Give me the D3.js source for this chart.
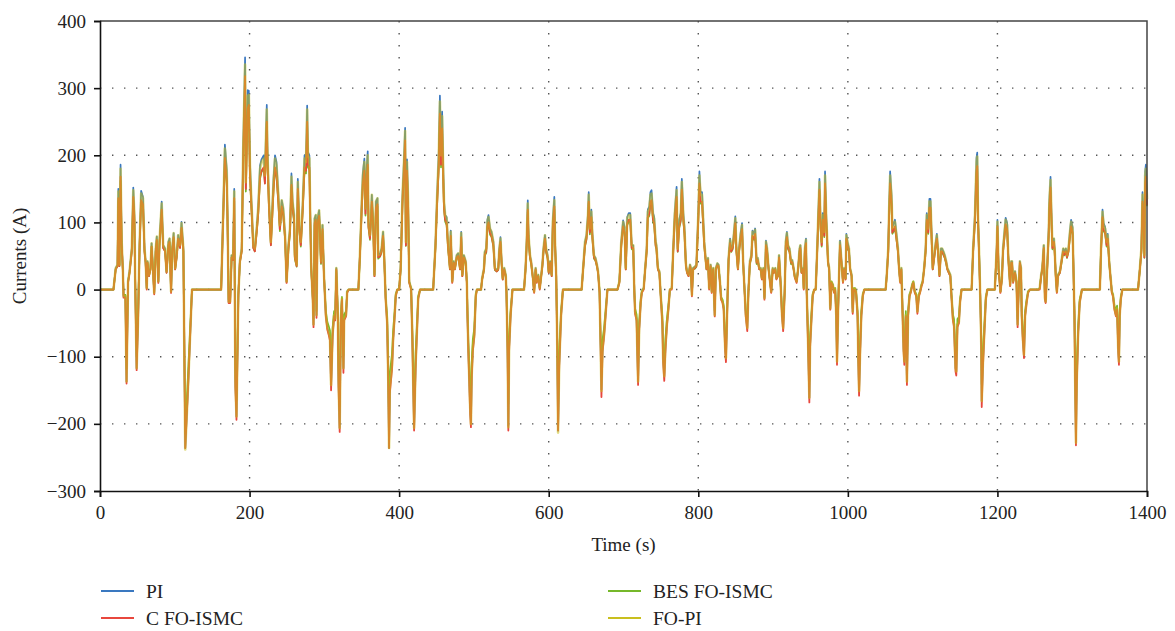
<!DOCTYPE html>
<html>
<head>
<meta charset="utf-8">
<script src="https://cdn.jsdelivr.net/npm/d3@7"></script>
<style>
  html, body { margin: 0; padding: 0; background: #fff; }
  svg { display: block; }
  text { font-family: "Liberation Serif", "DejaVu Serif", serif; fill: #222; }
</style>
</head>
<body>
<svg id="chart" width="1175" height="631"></svg>
<script>
// Sample times (s), shared by all four current traces
const time = [
  0,18,21,23.5,24.5,26,27.5,29,30.5,31.5, 34,35.5,37.5,39.5,42.5,44.5,46,47,49,51, 53,55,57.5,59.5,61,62.5,63.5,65.5,67.5,69, 71,72.5,74.5,76,78,79.5,82.5,84.5,87,89, 91.5,93,95,96.5,98.5,100.5,102.5,104.5,107,109, 111.5,114,118,123,162,167,169.5,170.5,172,174, 176,178,179.5,181,182.5,185,187,189.5,191.5,194, 195,197.5,199,200.5,202.5,205,207,209.5,211.5,214, 216,219,220.5,223,224,226,228.5,
  232,234,236,238.5,240.5,243,245,247.5,249.5,252, 254,256,257.5,259.5,260.5,263,264.5,266.5,268.5,271, 273.5,275.5,277,278,280,281,282.5,284.5,285.5,287, 288.5,289.5,291,293,294,295.5,297.5,299.5,302,304, 305.5,307.5,309,311,313,314.5,316,318,319,320.5, 322,323.5,325.5,326.5,329,330.5,332.5,345.5,347.5,350, 351.5,353.5,355,356.5,358,359,361,362.5,363.5,365.5, 367,369,371,372,374.5,376.5,378.5,380,382,384, 385.5,386.5,387.5,390.5,392,394,395.5,397.5,400,402, 404.5,406.5,408,409,410.5,412,413.5,416,417.5,420, 422,425.5,428,445.5,448.5,450.5,453,454.5,456,457.5, 458.5,460,461.5,
  463.5,465.5,468,469,471,473,474.5,477,479,481.5, 483,484.5,486.5,489,490.5,491.5,492.5,493.5,495,496, 497,498.5,500.5,502.5,504,509.5,511,513.5,514.5,516.5, 518,519.5,521.5,523.5,526,528,530.5,532.5,534,535.5, 537,538.5,540.5,542.5,543.5,545,546,547,549,551.5, 567,569,570.5,572,573,575,576.5,579,580.5,582.5, 584,586,588,589.5,591.5,593,595,596.5,598.5,600, 602,604,605.5,607.5,608.5,610,611.5,612.5,614,616.5, 619,644,646,648.5,650.5,652.5,653.5,655,657,658.5, 660.5,662.5,664.5,666,668,669.5,670.5,672,674,676, 678.5,692,
  694.5,697,699.5,701.5,703,705,707,709,711,713, 714.5,715.5,717.5,719.5,721,723,724.5,727,729,731, 732.5,734.5,736,737.5,739.5,741,743,744,746,748, 749.5,752,753,754.5,756,758,760,762,764.5,766.5, 768.5,771,772.5,774.5,776.5,778,780,781.5,783.5,785, 787,789,790,791.5,793,795.5,797.5,800,801.5,803, 805,806.5,808,809.5,811,813,814.5,816.5,818,820, 822,823.5,825.5,827,829,830.5,832.5,834,836,837, 838.5,840.5,842.5,844,846,847.5,849.5,851,853,854.5, 856.5,858.5,860,862,863.5,865.5,867,869,871,872.5, 874.5,876,878,879.5,881.5,883.5,885,887,888.5,890.5, 892,894,895.5,897.5,899.5,901,903,904.5,906.5,908, 910,912,913.5,915.5,917,918.5,920,922,924,925.5, 927.5,929,
  931.5,933.5,935.5,936.5,938,940,941,942.5,944,945, 947,948.5,949.5,951.5,953,955,957,959,960.5,962, 963.5,965,966.5,968.5,969.5,971,972.5,973.5,975,976.5, 978,980,981.5,983,984.5,985.5,987,988.5,989.5,991.5, 993.5,995,997,998,999.5,1001.5,1003,1005,1006.5,1008, 1009.5,1011,1013,1014,1015,1016.5,1018,1020,1022,1050.5, 1052,1054,1055,1056.5,1058.5,1059.5,1061.5,1063,1065,1067, 1068.5,1070,1071.5,1073,1074.5,1075.5,1077.5,1079,1080.5,1082.5, 1084,1086,1087.5,1089.5,1091.5,1093,1095,1096.5,1098.5,1100, 1102,1104,1105.5,1107.5,1109,1110.5,1112,1113.5,1115.5,1117, 1119,1120.5,1122.5,1124.5,1126,1128,1129.5,1131.5,1133,1135, 1137,1138.5,1140.5,1142,1144,1145,1146.5,1148.5,1150,1152,
  1165.5,1167.5,1170,1172,1173,1174,1175.5,1177,1178.5,1179, 1180.5,1182.5,1184.5,1186.5,1196.5,1199,1200,1201.5,1203,1204, 1206,1207.5,1209.5,1211,1213,1214.5,1215.5,1217,1218.5,1219.5, 1221,1222.5,1223.5,1225.5,1227,1228,1230,1231.5,1232.5,1234, 1235.5,1237,1239,1241,1243.5,1254.5,1256.5,1258.5,1260,1262, 1263.5,1264.5,1266.5,1268.5,1269.5,1271,1272.5,1273.5,1275.5,1276.5, 1278,1279.5,1281,1283.5,1285.5,1288,1289.5,1291.5,1293,1295, 1297,1298.5,1300.5,1301.5,1303,1304,1305,1306,1308,1310, 1313,1337,1338.5,1340.5,1342,1344,1346,1347.5,1349.5,1351, 1353,1354.5,1356.5,1358.5,1360,1361.5,1362.5,1363.5,1365,1367, 1388,1390.5,1392.5,1394,1395.5,1396.5,1397.5,1398.5,1400
];

// PI controller current (A)
const currentPI = [
  0,0,32,37,150,37,186,71,32,-10, -10,-137,12,27,61,152,111,17,-117,-38, 71,147,138,61,42,2,42,22,32,69, 27,-5,61,79,12,71,131,66,61,27, 71,76,-3,61,84,32,51,81,66,101, 61,-236,-137,0,0,216,178,111,-18,-18, 51,47,150,-137,-189,-8,42,61,214,346, 165,297,296,190,131,66,61,91,121,185, 194,200,172,275,205,131,71,
  165,200,190,141,96,133,121,81,12,66, 91,173,131,111,51,37,165,96,71,126, 200,194,274,205,200,121,32,-13,-52,106, 111,-38,106,118,91,42,96,22,-38,-57, -62,-72,-142,-67,-38,-43,32,-38,-137,-206, -48,-13,-117,-43,-38,-3,0,0,51,131, 174,195,121,180,206,101,81,116,141,96, 22,131,136,51,54,61,86,51,-13,-48, -137,-236,-147,-112,-72,-38,-8,0,0,32, 141,194,241,71,194,131,12,2,-62,-206, -112,-12,0,0,66,131,206,289,206,265, 204,131,111,
  108,66,32,88,12,42,32,51,54,32, 86,22,51,42,12,-43,-87,-122,-176,-198, -127,-87,-67,-8,0,0,17,32,56,61, 104,111,91,86,71,32,29,32,61,78, 42,17,32,22,-3,-87,-203,-87,-37,0, 0,32,71,133,81,51,42,17,-3,32, 12,22,2,17,37,61,81,61,51,27, 42,22,104,138,71,22,-87,-210,-112,-38, 0,0,32,71,81,113,145,91,119,81, 51,47,37,27,-3,-87,-149,-87,-67,-37, 0,0,
  12,71,103,93,32,108,114,114,66,66, -2,-33,-43,-137,-57,-18,-3,2,32,61, 119,124,145,148,114,108,71,66,32,27, -3,-48,-102,-129,-87,-52,-28,0,2,61, 114,153,61,104,114,165,114,93,37,27, 22,37,32,-8,32,34,37,114,176,145, 145,108,71,51,32,47,2,37,-3,32, -38,32,39,37,12,-13,-18,-28,-87,-102, -38,47,76,61,66,83,109,61,32,61, 83,99,42,-3,-37,-57,-3,42,51,88, 83,91,42,47,32,32,17,32,-13,73, 61,32,17,-3,32,27,32,17,22,51, 12,-38,-57,-3,73,86,66,61,42,44, 32,20,
  12,32,61,66,27,32,2,61,76,-3, -87,-161,-82,-38,-8,0,0,61,114,165, 104,71,114,88,176,114,71,42,32,-28, 12,7,-3,2,-38,-107,-28,32,73,42, 12,32,17,83,71,61,32,22,-33,2, 2,-3,-38,-102,-151,-87,-38,-8,0,0, 22,61,114,176,140,93,99,104,83,61, 32,12,32,-28,-87,-107,-38,-137,-38,-8, -3,7,12,-3,-8,-33,-8,-3,7,12, 32,61,114,93,135,135,83,32,51,66, 83,61,22,61,61,56,51,42,32,27, 22,-8,-43,-52,-117,-122,-52,-48,-18,0,
  0,61,114,196,204,114,56,-8,-87,-166, -112,-62,-13,0,0,61,104,32,12,-3, 17,61,88,107,99,51,32,7,42,42, 12,22,27,12,-52,-13,42,32,-38,-72, -97,-38,-18,-3,0,0,2,22,32,66, -13,-18,32,88,135,168,104,66,76,61, 22,-3,22,27,42,61,56,61,51,61, 88,104,93,42,-38,-137,-226,-137,-62,-18, 0,0,61,119,99,93,71,83,42,22, -3,-8,-28,-38,-28,-87,-107,-38,-13,0, 0,32,61,145,114,51,176,186,138
];

// Conventional FO-ISMC current (A)
const currentCFOISMC = [
  0,0,30,35,136,35,168,66,30,-12, -12,-140,10,25,57,138,104,15,-120,-40, 66,133,127,57,40,0,40,20,30,64, 25,-7,57,74,10,66,119,62,57,25, 66,71,-5,57,78,30,48,76,62,92, 57,-236,-140,0,0,196,163,104,-20,-20, 48,44,136,-145,-194,-10,40,57,196,318, 150,270,275,172,122,62,57,85,113,168, 177,182,158,250,186,122,66,
  150,182,172,131,90,124,113,76,10,62, 85,156,122,104,48,35,150,90,66,118, 182,177,250,186,182,113,30,-15,-56,99, 104,-42,99,110,85,40,90,20,-40,-60, -66,-76,-150,-70,-40,-46,30,-40,-145,-212, -50,-15,-124,-46,-40,-5,0,0,48,122, 158,177,113,163,186,94,76,108,131,90, 20,122,127,48,50,57,80,48,-15,-52, -145,-236,-155,-118,-76,-40,-10,0,0,30, 131,177,222,66,177,122,10,0,-66,-210, -118,-14,0,0,62,122,186,262,186,240, 186,122,104,
  99,62,30,80,10,40,30,48,50,30, 78,20,48,40,10,-46,-92,-128,-186,-205, -132,-92,-70,-10,0,0,15,30,52,57, 94,100,85,80,66,30,27,30,57,71, 40,15,30,20,-5,-92,-210,-92,-40,0, 0,30,66,119,76,48,40,15,-5,30, 10,20,0,15,35,57,76,57,48,25, 40,20,94,124,66,20,-92,-210,-118,-40, 0,0,30,66,76,104,131,85,108,76, 48,44,35,25,-5,-92,-160,-92,-70,-40, 0,0,
  10,66,94,85,30,99,104,104,62,62, -4,-36,-46,-142,-60,-20,-5,0,30,57, 108,113,131,133,104,99,66,62,30,25, -5,-52,-108,-136,-92,-55,-30,0,0,57, 104,138,57,94,104,149,104,85,35,25, 20,35,30,-10,30,32,35,104,158,131, 131,99,66,48,30,44,0,35,-5,30, -40,30,36,35,10,-15,-20,-30,-92,-108, -40,44,69,57,62,76,99,57,30,57, 76,90,40,-5,-40,-62,-5,40,48,80, 76,83,40,44,30,30,15,30,-15,66, 57,30,15,-5,30,25,30,15,20,48, 10,-40,-62,-5,66,78,62,57,40,41, 30,18,
  10,30,57,62,25,30,0,57,69,-5, -92,-168,-86,-40,-10,0,0,57,104,149, 94,66,104,80,158,104,66,40,30,-30, 10,5,-5,0,-40,-112,-30,30,66,40, 10,30,15,76,66,57,30,20,-36,0, 0,-5,-40,-108,-158,-92,-40,-10,0,0, 20,57,104,158,127,85,90,94,76,57, 30,10,30,-30,-92,-112,-40,-142,-40,-10, -5,5,10,-5,-10,-36,-10,-5,5,10, 30,57,104,85,122,122,76,30,48,62, 76,57,20,57,57,52,48,40,30,25, 20,-10,-46,-56,-122,-128,-56,-50,-20,0,
  0,57,104,176,184,104,52,-10,-92,-175, -118,-66,-15,0,0,57,94,30,10,-5, 15,57,80,97,89,48,30,5,40,40, 10,20,25,10,-56,-15,40,30,-40,-76, -102,-40,-20,-5,0,0,0,20,30,62, -15,-20,30,80,122,152,94,62,71,57, 20,-5,20,25,40,57,52,57,48,57, 80,94,85,40,-40,-145,-232,-145,-66,-20, 0,0,57,108,89,85,66,76,40,20, -5,-10,-30,-40,-30,-92,-112,-40,-15,0, 0,30,57,131,104,48,158,168,126
];

// BES-tuned FO-ISMC current (A)
const currentBESFOISMC = [
  0,0,30,35,132,35,162,66,30,-8, -8,-118,12,25,57,133,100,16,-100,-32, 66,129,122,57,40,2,40,20,30,64, 25,-4,57,72,12,66,115,62,57,25, 66,70,-2,57,76,30,48,74,62,90, 57,-215,-118,0,0,190,158,100,-15,-15, 48,44,132,-118,-165,-6,40,57,190,310, 146,265,268,170,120,62,57,85,110,165, 175,180,158,248,184,120,66,
  146,178,168,128,87,121,110,74,11,60, 83,153,119,101,46,34,146,87,64,115, 178,173,244,182,178,110,29,-11,-44,96, 101,-32,96,107,83,38,87,20,-32,-48, -53,-61,-121,-57,-32,-37,29,-32,-116,-175, -41,-11,-99,-37,-32,-3,0,0,46,119, 155,173,110,159,182,92,74,106,128,87, 20,119,124,46,49,55,78,46,-11,-41, -116,-200,-125,-95,-61,-32,-7,0,0,29, 128,173,215,65,173,119,11,2,-53,-175, -95,-10,0,0,60,119,182,255,182,235, 182,119,101,
  96,60,30,78,12,38,30,46,49,30, 76,20,46,38,12,-37,-74,-104,-150,-165, -108,-74,-57,-7,0,0,15,29,50,55, 92,98,82,78,64,29,27,29,55,69, 38,15,29,20,-2,-74,-170,-74,-32,0, 0,29,64,116,74,46,38,15,-2,29, 12,20,2,15,34,55,74,55,46,25, 38,20,92,120,64,20,-74,-180,-95,-32, 0,0,29,64,74,101,128,82,105,74, 46,43,34,25,-2,-74,-130,-74,-57,-32, 0,0,
  12,64,92,83,30,96,101,101,60,60, -2,-28,-37,-116,-48,-15,-3,2,30,56, 106,110,128,130,101,96,64,60,30,25, -3,-41,-87,-110,-74,-44,-24,0,2,56, 101,134,56,92,101,146,101,83,34,25, 20,34,30,-7,30,31,34,101,155,128, 128,96,64,47,30,43,2,34,-3,30, -32,30,36,34,12,-11,-15,-24,-74,-87, -32,43,68,56,60,74,96,56,30,56, 74,87,38,-3,-32,-48,-3,38,47,78, 74,81,38,43,30,30,16,30,-11,64, 56,30,16,-3,30,25,30,16,20,47, 12,-32,-48,-3,64,76,60,56,38,40, 30,19,
  12,30,56,60,25,30,2,56,68,-3, -74,-137,-70,-32,-7,0,0,56,101,146, 92,64,101,78,155,101,64,38,30,-24, 12,7,-3,2,-32,-91,-24,30,64,38, 12,30,16,74,64,56,30,20,-28,2, 2,-3,-32,-87,-128,-74,-32,-7,0,0, 20,56,101,155,124,83,87,92,74,56, 30,12,30,-24,-74,-91,-32,-116,-32,-7, -3,7,12,-3,-7,-28,-7,-3,7,12, 30,56,101,83,119,119,74,30,47,60, 74,56,20,56,56,51,47,38,30,25, 20,-7,-37,-44,-99,-104,-44,-41,-15,0,
  0,56,101,172,180,101,51,-7,-74,-141, -95,-53,-11,0,0,56,92,30,12,-3, 16,56,78,95,87,47,30,7,38,38, 12,20,25,12,-44,-11,38,30,-32,-61, -82,-32,-15,-3,0,0,2,20,30,60, -11,-15,30,78,119,148,92,60,69,56, 20,-3,20,25,38,56,51,56,47,56, 78,92,83,38,-32,-116,-194,-116,-53,-15, 0,0,56,106,87,83,64,74,38,20, -3,-7,-24,-32,-24,-74,-91,-32,-11,0, 0,30,56,128,101,47,155,165,124
];

// FO-PI controller current (A)
const currentFOPI = [
  0,0,32,37,146,37,180,71,32,-10, -10,-137,12,27,61,148,111,17,-117,-38, 71,143,136,61,42,2,42,22,32,69, 27,-5,61,79,12,71,128,66,61,27, 71,76,-3,61,84,32,51,81,66,99, 61,-238,-137,0,0,210,175,111,-18,-18, 51,47,146,-137,-189,-8,42,61,210,335, 160,288,290,185,131,66,61,91,121,180, 190,195,170,268,200,131,71,
  160,195,185,141,96,133,121,81,12,66, 91,168,131,111,51,37,160,96,71,126, 195,190,268,200,195,121,32,-13,-52,106, 111,-38,106,118,91,42,96,22,-38,-57, -62,-72,-142,-67,-38,-43,32,-38,-137,-206, -48,-13,-117,-43,-38,-3,0,0,51,131, 170,190,121,175,200,101,81,116,141,96, 22,131,136,51,54,61,86,51,-13,-48, -137,-236,-147,-112,-72,-38,-8,0,0,32, 141,190,236,71,190,131,12,2,-62,-206, -112,-12,0,0,66,131,200,280,200,258, 200,131,111,
  106,66,32,86,12,42,32,51,54,32, 84,22,51,42,12,-43,-87,-122,-176,-200, -127,-87,-67,-8,0,0,17,32,56,61, 101,108,91,86,71,32,29,32,61,76, 42,17,32,22,-3,-87,-205,-87,-37,0, 0,32,71,128,81,51,42,17,-3,32, 12,22,2,17,37,61,81,61,51,27, 42,22,101,133,71,22,-87,-213,-112,-38, 0,0,32,71,81,111,141,91,116,81, 51,47,37,27,-3,-87,-151,-87,-67,-37, 0,0,
  12,71,101,91,32,106,111,111,66,66, -2,-33,-43,-137,-57,-18,-3,2,32,61, 116,121,141,143,111,106,71,66,32,27, -3,-48,-102,-129,-87,-52,-28,0,2,61, 111,148,61,101,111,160,111,91,37,27, 22,37,32,-8,32,34,37,111,170,141, 141,106,71,51,32,47,2,37,-3,32, -38,32,39,37,12,-13,-18,-28,-87,-102, -38,47,74,61,66,81,106,61,32,61, 81,96,42,-3,-37,-57,-3,42,51,86, 81,89,42,47,32,32,17,32,-13,71, 61,32,17,-3,32,27,32,17,22,51, 12,-38,-57,-3,71,84,66,61,42,44, 32,20,
  12,32,61,66,27,32,2,61,74,-3, -87,-161,-82,-38,-8,0,0,61,111,160, 101,71,111,86,170,111,71,42,32,-28, 12,7,-3,2,-38,-107,-28,32,71,42, 12,32,17,81,71,61,32,22,-33,2, 2,-3,-38,-102,-151,-87,-38,-8,0,0, 22,61,111,170,136,91,96,101,81,61, 32,12,32,-28,-87,-107,-38,-137,-38,-8, -3,7,12,-3,-8,-33,-8,-3,7,12, 32,61,111,91,131,131,81,32,51,66, 81,61,22,61,61,56,51,42,32,27, 22,-8,-43,-52,-117,-122,-52,-48,-18,0,
  0,61,111,190,198,111,56,-8,-87,-166, -112,-62,-13,0,0,61,101,32,12,-3, 17,61,86,104,96,51,32,7,42,42, 12,22,27,12,-52,-13,42,32,-38,-72, -97,-38,-18,-3,0,0,2,22,32,66, -13,-18,32,86,131,163,101,66,76,61, 22,-3,22,27,42,61,56,61,51,61, 86,101,91,42,-38,-137,-228,-137,-62,-18, 0,0,61,116,96,91,71,81,42,22, -3,-8,-28,-38,-28,-87,-107,-38,-13,0, 0,32,61,141,111,51,170,180,135
];

const seriesNames = ["PI", "C FO-ISMC", "BES FO-ISMC", "FO-PI"];
const seriesColors = ["#3a78c0", "#e8473d", "#76b82a", "#c9bf1e"];
const xTicks = [0, 200, 400, 600, 800, 1000, 1200, 1400];
const yTicks = [-300, -200, -100, 0, 100, 200, 300, 400];

const svg = d3.select("#chart");
const W = 1175, H = 631;
const m = { left: 100, right: 28, top: 21, bottom: 140 };
const x = d3.scaleLinear().domain([0, 1400]).range([m.left, W - m.right]);
const y = d3.scaleLinear().domain([-300, 400]).range([H - m.bottom, m.top]);

// dotted grid
const grid = svg.append("g").attr("stroke", "#555").attr("stroke-width", 1.4)
  .attr("stroke-dasharray", "1.4,10.6").attr("fill", "none");
grid.selectAll("line.v").data(xTicks.filter(d => d > 0 && d < 1400)).join("line")
  .attr("x1", d => x(d)).attr("x2", d => x(d)).attr("y1", y(400)).attr("y2", y(-300));
grid.selectAll("line.h").data(yTicks.filter(d => d > -300 && d < 400)).join("line")
  .attr("x1", x(0)).attr("x2", x(1400)).attr("y1", d => y(d)).attr("y2", d => y(d));

// traces: PI underneath, then BES FO-ISMC, C FO-ISMC, and a translucent FO-PI on top
const allSeries = [currentPI, currentCFOISMC, currentBESFOISMC, currentFOPI];
const n = Math.min(time.length, ...allSeries.map(s => s.length));
const line = d3.line().x(d => x(d[0])).y(d => y(d[1]));
const drawOrder = [0, 2, 1, 3];
const widths = [1.7, 1.8, 1.7, 2.6];
const opac = [1, 1, 1, 0.55];
drawOrder.forEach(i => {
  const s = allSeries[i];
  const pts = d3.range(n).map(k => [time[k], s[k]]);
  svg.append("path").datum(pts)
    .attr("fill", "none").attr("stroke", seriesColors[i])
    .attr("stroke-width", widths[i]).attr("stroke-opacity", opac[i])
    .attr("stroke-linejoin", "round").attr("d", line);
});

// frame (top, right)
svg.append("path")
  .attr("d", `M${x(0)},${y(400)}H${x(1400)}V${y(-300)}`)
  .attr("fill", "none").attr("stroke", "#444").attr("stroke-width", 1.5);

// axes
const fmt = d3.format("d");
const xAxis = svg.append("g").attr("transform", `translate(0,${y(-300)})`)
  .call(d3.axisBottom(x).tickValues(xTicks).tickFormat(fmt).tickSize(6).tickPadding(9));
const yAxis = svg.append("g").attr("transform", `translate(${x(0)},0)`)
  .call(d3.axisLeft(y).tickValues(yTicks).tickFormat(d3.format("d")).tickSize(6).tickPadding(8));
[xAxis, yAxis].forEach(a => {
  a.select(".domain").attr("stroke", "#111").attr("stroke-width", 1.6);
  a.selectAll(".tick line").attr("stroke", "#111").attr("stroke-width", 1.6);
  a.selectAll(".tick text").attr("font-size", 19).attr("font-family", "Liberation Serif, serif").attr("fill", "#222");
});
yAxis.selectAll(".tick text").text(d => d < 0 ? "\u2212" + Math.abs(d) : d);

// axis titles
svg.append("text").attr("x", (x(0) + x(1400)) / 2).attr("y", 551)
  .attr("text-anchor", "middle").attr("font-size", 19).text("Time (s)");
svg.append("text").attr("transform", `translate(26,${(y(400) + y(-300)) / 2}) rotate(-90)`)
  .attr("text-anchor", "middle").attr("font-size", 19).text("Currents (A)");

// legend: two columns, two rows
const legendPos = [[101, 591], [101, 618], [608, 591], [608, 618]];
seriesNames.forEach((name, i) => {
  const [lx, ly] = legendPos[i];
  svg.append("line").attr("x1", lx).attr("x2", lx + 33).attr("y1", ly).attr("y2", ly)
    .attr("stroke", seriesColors[i]).attr("stroke-width", 2);
  svg.append("text").attr("x", lx + 45).attr("y", ly + 6.5).attr("font-size", 19.5).text(name);
});
</script>
</body>
</html>
